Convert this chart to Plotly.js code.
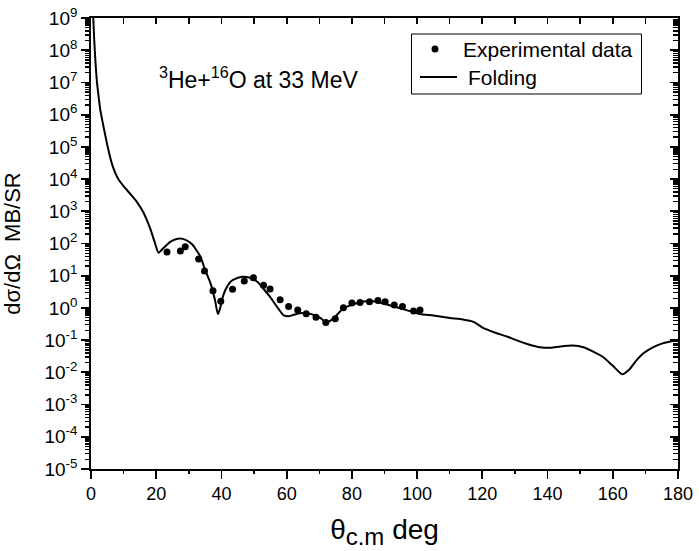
<!DOCTYPE html>
<html>
<head>
<meta charset="utf-8">
<script src="https://cdn.plot.ly/plotly-3.0.1.min.js"></script>
<style>html,body{margin:0;padding:0;background:#fff;}#chart{width:699px;height:551px;}</style>
</head>
<body>
<div id="chart"></div>
<script>
// Folding model curve (theta c.m. in deg, dsigma/dOmega in mb/sr)
var thetaFold = [0.5, 0.7, 1.0, 1.3, 1.84, 2.4, 2.85, 3.5, 4.2, 4.9, 5.7, 6.5, 7.5, 8.5, 10.0, 12.0, 14.0, 16.0, 18.0, 19.6, 20.7, 22.2, 24.3, 26.0, 27.4, 29.0, 31.0, 33.5, 35.0, 36.6, 38.0, 38.9, 39.5, 40.3, 41.2, 42.5, 43.7, 46.3, 48.5, 50.9, 53.0, 54.9, 57.0, 59.0, 60.5, 62.0, 64.0, 66.2, 68.5, 70.3, 71.8, 73.0, 75.0, 77.4, 80.0, 82.5, 84.6, 86.5, 88.7, 91.0, 94.8, 98.0, 100.9, 105.0, 110.1, 114.0, 117.3, 120.2, 124.0, 127.5, 131.0, 134.0, 137.7, 141.0, 144.0, 147.8, 151.0, 154.0, 157.0, 160.0, 162.9, 165.0, 167.0, 169.4, 172.0, 175.0, 178.0, 180.0];
var sigFold = [4e9, 1e9, 2e8, 5.6e7, 1e7, 3.2e6, 1.4e6, 6.3e5, 2.8e5, 1.26e5, 5.6e4, 2.8e4, 1.5e4, 9.5e3, 6e3, 3.5e3, 2e3, 950, 320, 105, 52, 72, 112, 135, 142, 130, 95, 40, 15, 6, 1.8, 0.65, 0.9, 2, 3.6, 6, 7.5, 9.3, 8.8, 6.6, 3.8, 2.2, 1.1, 0.6, 0.55, 0.6, 0.68, 0.69, 0.6, 0.49, 0.37, 0.38, 0.55, 0.98, 1.25, 1.5, 1.6, 1.6, 1.45, 1.25, 0.98, 0.78, 0.65, 0.58, 0.49, 0.44, 0.37, 0.24, 0.17, 0.13, 0.095, 0.075, 0.06, 0.058, 0.064, 0.068, 0.06, 0.044, 0.03, 0.016, 0.0087, 0.012, 0.022, 0.039, 0.058, 0.078, 0.093, 0.1];

// Experimental data
var thetaExp = [23.3, 27.4, 28.9, 33.0, 34.8, 37.4, 39.8, 43.4, 47.0, 49.8, 52.9, 54.9, 58.0, 60.6, 63.4, 66.0, 69.0, 72.0, 74.9, 77.4, 80.0, 82.5, 85.4, 88.0, 90.2, 93.0, 95.5, 98.9, 100.9];
var sigExp = [54, 59, 79, 33, 14, 3.4, 1.6, 3.8, 6.9, 8.7, 5.1, 3.9, 1.8, 1.1, 0.87, 0.66, 0.51, 0.35, 0.46, 1.02, 1.41, 1.48, 1.55, 1.70, 1.55, 1.23, 1.10, 0.81, 0.87];

// Axis ticks
var xTickVals = [0, 20, 40, 60, 80, 100, 120, 140, 160, 180];
var xTickText = ['0', '20', '40', '60', '80', '100', '120', '140', '160', '180'];
var xMinorVals = [10, 30, 50, 70, 90, 110, 130, 150, 170];
var yTickVals = [1e-5, 1e-4, 1e-3, 1e-2, 1e-1, 1, 10, 1e2, 1e3, 1e4, 1e5, 1e6, 1e7, 1e8, 1e9];
var yTickText = ['10<sup>-5</sup>', '10<sup>-4</sup>', '10<sup>-3</sup>', '10<sup>-2</sup>', '10<sup>-1</sup>', '10<sup>0</sup>', '10<sup>1</sup>', '10<sup>2</sup>', '10<sup>3</sup>', '10<sup>4</sup>', '10<sup>5</sup>', '10<sup>6</sup>', '10<sup>7</sup>', '10<sup>8</sup>', '10<sup>9</sup>'];
var yRangeLog = [-5, 9];

var legendNames = ['Experimental data', 'Folding'];
var reactionLabel = '<sup>3</sup>He+<sup>16</sup>O at 33 MeV';

// minor tick positions 2..9 x 10^n
var yMinorVals = [];
for (var e = -5; e < 9; e++) {
  for (var m = 2; m <= 9; m++) { yMinorVals.push(m * Math.pow(10, e)); }
}

var FONT = 'Arial, "Liberation Sans", sans-serif';

function tickAxis(extra) {
  var base = {showticklabels: false, showline: false, showgrid: false, zeroline: false, tickcolor: 'black', tickwidth: 1.4};
  for (var k in extra) base[k] = extra[k];
  return base;
}

var traces = [
  {x: thetaExp, y: sigExp, mode: 'markers', type: 'scatter', name: legendNames[0],
   marker: {color: 'black', size: 7, symbol: 'circle'}, hoverinfo: 'x+y'},
  {x: thetaFold, y: sigFold, mode: 'lines', type: 'scatter', name: legendNames[1],
   line: {color: 'black', width: 2, shape: 'spline', smoothing: 0.6}, hoverinfo: 'x+y'},
  {x: [null], y: [null], xaxis: 'x2', yaxis: 'y2', mode: 'markers', showlegend: false, hoverinfo: 'skip'},
  {x: [null], y: [null], xaxis: 'x3', yaxis: 'y3', mode: 'markers', showlegend: false, hoverinfo: 'skip'},
  {x: [null], y: [null], xaxis: 'x4', yaxis: 'y4', mode: 'markers', showlegend: false, hoverinfo: 'skip'}
];

// plot area in pixels
var PL = 91, PR = 678, PT = 18, PB = 469;
function px(x) { return (x - PL) / (PR - PL); }
function py(y) { return (PB - y) / (PB - PT); }

var layout = {
  width: 699, height: 551,
  margin: {l: PL, r: 699 - PR, t: PT, b: 551 - PB},
  paper_bgcolor: 'white', plot_bgcolor: 'white',
  font: {family: FONT, color: 'black', size: 16},
  showlegend: false,
  xaxis: {
    range: [0, 180], tickvals: xTickVals, ticktext: xTickText, ticks: 'outside', ticklen: 8, tickwidth: 1.8,
    tickcolor: 'black', showline: true, linecolor: 'black', linewidth: 1.8, showgrid: false, zeroline: false,
    tickfont: {family: FONT, size: 18},
    title: {text: 'θ<sub><span style="font-size:24px">c.m</span></sub> deg', font: {family: FONT, size: 28}, standoff: 16}
  },
  yaxis: {
    type: 'log', range: yRangeLog, tickvals: yTickVals, ticktext: yTickText,
    ticks: 'outside', ticklen: 8, tickwidth: 1.8, tickcolor: 'black',
    showline: true, linecolor: 'black', linewidth: 1.8, showgrid: false, zeroline: false,
    tickfont: {family: FONT, size: 19},
    title: {text: 'dσ/dΩ\u00a0\u00a0MB/SR', font: {family: FONT, size: 22}, standoff: 18}
  },
  xaxis2: {
    overlaying: 'x', side: 'top', anchor: 'y', range: [0, 180], tickvals: xTickVals,
    ticks: 'inside', ticklen: 6, tickwidth: 1.8, tickcolor: 'black', showticklabels: false,
    showline: true, linecolor: 'black', linewidth: 1.8, showgrid: false, zeroline: false
  },
  yaxis2: {
    overlaying: 'y', side: 'right', anchor: 'x', type: 'log', range: yRangeLog, tickvals: yTickVals,
    ticks: 'inside', ticklen: 8, tickwidth: 1.8, tickcolor: 'black', showticklabels: false,
    showline: true, linecolor: 'black', linewidth: 1.8, showgrid: false, zeroline: false
  },
  xaxis3: tickAxis({overlaying: 'x', side: 'bottom', anchor: 'y', range: [0, 180], tickvals: xMinorVals, ticks: 'outside', ticklen: 4}),
  yaxis3: tickAxis({overlaying: 'y', side: 'left', anchor: 'x', type: 'log', range: yRangeLog, tickvals: yMinorVals, ticks: 'outside', ticklen: 5}),
  xaxis4: tickAxis({overlaying: 'x', side: 'top', anchor: 'y', range: [0, 180], tickvals: xMinorVals, ticks: 'inside', ticklen: 6}),
  yaxis4: tickAxis({overlaying: 'y', side: 'right', anchor: 'x', type: 'log', range: yRangeLog, tickvals: yMinorVals, ticks: 'inside', ticklen: 5}),
  shapes: [
    // legend frame and keys
    {type: 'rect', xref: 'paper', yref: 'paper', x0: px(411.5), x1: px(641.5), y0: py(34), y1: py(94),
     line: {color: 'black', width: 1}, fillcolor: 'white', layer: 'above'},
    {type: 'circle', xref: 'paper', yref: 'paper', xsizemode: 'pixel', ysizemode: 'pixel',
     xanchor: px(435), yanchor: py(49), x0: -3.5, x1: 3.5, y0: -3.5, y1: 3.5,
     fillcolor: 'black', line: {color: 'black', width: 0}, layer: 'above'},
    {type: 'line', xref: 'paper', yref: 'paper', x0: px(420), x1: px(457), y0: py(77), y1: py(77),
     line: {color: 'black', width: 2}, layer: 'above'}
  ],
  annotations: [
    {xref: 'paper', yref: 'paper', x: px(461), y: py(49), xanchor: 'left', yanchor: 'middle',
     text: legendNames[0], showarrow: false, font: {family: FONT, size: 21, color: 'black'}},
    {xref: 'paper', yref: 'paper', x: px(466), y: py(77), xanchor: 'left', yanchor: 'middle',
     text: legendNames[1], showarrow: false, font: {family: FONT, size: 21, color: 'black'}},
    {xref: 'paper', yref: 'paper', x: px(157), y: py(78), xanchor: 'left', yanchor: 'middle',
     text: reactionLabel, showarrow: false, font: {family: FONT, size: 23, color: 'black'}}
  ]
};

Plotly.newPlot('chart', traces, layout, {displayModeBar: false, staticPlot: true});
</script>
</body>
</html>
